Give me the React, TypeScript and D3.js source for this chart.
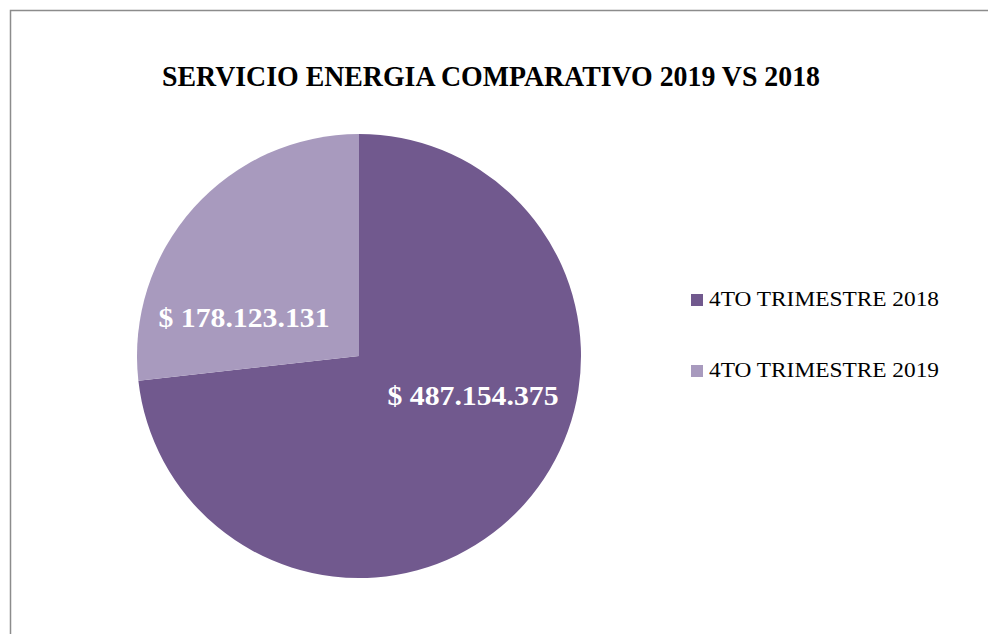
import React from "react";
import * as d3 from "d3";

const categories = ["4TO TRIMESTRE 2018", "4TO TRIMESTRE 2019"];
const values = [487154375, 178123131];
const valueLabels = ["$ 487.154.375", "$ 178.123.131"];
const colors = ["#71598E", "#A89ABE"];
const title = "SERVICIO ENERGIA COMPARATIVO 2019 VS 2018";

export default function App() {
  const W = 988, H = 634;
  const cx = 359, cy = 356, r = 222;
  const pie = d3.pie<number>().sort(null).value((d) => d)(values);
  const arc = d3.arc<d3.PieArcDatum<number>>().innerRadius(0).outerRadius(r);
  const labelPos = [
    [473, 405],
    [244, 327],
  ];
  const serif = "'Liberation Serif', 'DejaVu Serif', serif";
  return (
    <svg width={W} height={H} style={{ position: "absolute", left: 0, top: 0 }}>
      <rect x={0} y={0} width={W} height={H} fill="#fff" />
      <path d={`M10.5,${H + 2}V10.5H${W + 2}`} fill="none" stroke="#8c8c8c" strokeWidth={1.5} />
      <text x={491} y={86} textAnchor="middle" fontFamily={serif} fontWeight="bold" fontSize={30}
        textLength={658} lengthAdjust="spacingAndGlyphs" fill="#000">{title}</text>
      <g transform={`translate(${cx},${cy})`}>
        {pie.map((p, i) => (
          <path key={i} d={arc(p) || ""} fill={colors[i]} />
        ))}
      </g>
      {valueLabels.map((t, i) => (
        <text key={i} x={labelPos[i][0]} y={labelPos[i][1]} textAnchor="middle" fontFamily={serif}
          fontWeight="bold" fontSize={27} fill="#fff" textLength={171} lengthAdjust="spacingAndGlyphs">{t}</text>
      ))}
      {categories.map((c, i) => (
        <g key={c} transform={`translate(691,${294 + i * 71})`}>
          <rect x={0} y={0} width={12} height={12} fill={colors[i]} />
          <text x={18} y={12} fontFamily={serif} fontSize={22} fill="#000"
            textLength={230} lengthAdjust="spacingAndGlyphs">{c}</text>
        </g>
      ))}
    </svg>
  );
}
